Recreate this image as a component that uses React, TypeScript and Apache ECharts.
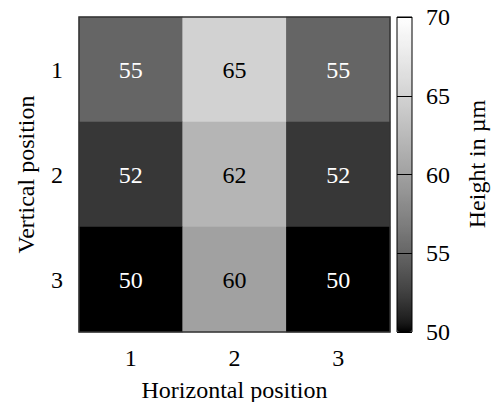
import React, { useEffect, useRef } from "react";
import * as echarts from "echarts";

const xCategories = ["1", "2", "3"];
const yCategories = ["1", "2", "3"];
const row1 = [55, 65, 55];
const row2 = [52, 62, 52];
const row3 = [50, 60, 50];
const rows = [row1, row2, row3];
const colorbarMin = 50;
const colorbarMax = 70;
const colorbarStep = 5;
const xName = "Horizontal position";
const yName = "Vertical position";
const cbName = "Height in µm";

const FONT = "Liberation Serif";
const FS = 24;

export default function App() {
  const ref = useRef<HTMLDivElement>(null);
  useEffect(() => {
    if (!ref.current) return;
    const chart = echarts.init(ref.current, null, { renderer: "svg" });

    const gL = 79, gT = 17, gW = 311, gH = 315;
    const cL = 397, cW = 15;

    const data: any[] = [];
    rows.forEach((r, yi) => {
      r.forEach((v, xi) => {
        data.push({
          value: [xi, yi, v],
          label: { color: v >= 58 ? "#000" : "#fff" },
        });
      });
    });

    // gnuplot gray palette (gamma 1.5) color stops
    const stops: string[] = [];
    for (let i = 0; i <= 40; i++) {
      const g = Math.round(255 * Math.pow(i / 40, 1 / 1.5));
      stops.push(`rgb(${g},${g},${g})`);
    }

    chart.setOption({
      animation: false,
      grid: [
        { left: gL, top: gT, width: gW, height: gH, containLabel: false, outerBoundsMode: "none" },
        { left: cL, top: gT, width: cW, height: gH, containLabel: false, outerBoundsMode: "none" },
      ],
      xAxis: [
        {
          type: "category",
          gridIndex: 0,
          data: xCategories,
          axisLine: { show: false },
          axisTick: { show: false },
          splitLine: { show: false },
          axisLabel: { fontFamily: FONT, fontSize: FS, color: "#000", margin: 14 },
          name: xName,
          nameLocation: "middle",
          nameGap: 46,
          nameTextStyle: { fontFamily: FONT, fontSize: FS, color: "#000" },
        },
        {
          type: "value",
          gridIndex: 1,
          show: false,
        },
      ],
      yAxis: [
        {
          type: "category",
          gridIndex: 0,
          data: yCategories,
          inverse: true,
          axisLine: { show: false },
          axisTick: { show: false },
          splitLine: { show: false },
          axisLabel: { fontFamily: FONT, fontSize: FS, color: "#000", margin: 16 },
          name: yName,
          nameLocation: "middle",
          nameGap: 41,
          nameTextStyle: { fontFamily: FONT, fontSize: FS, color: "#000" },
        },
        {
          type: "value",
          gridIndex: 1,
          position: "right",
          min: colorbarMin,
          max: colorbarMax,
          interval: colorbarStep,
          z: 10,
          axisLine: { show: false },
          axisTick: { show: false },
          splitLine: { show: true, lineStyle: { color: "#000", width: 1 } },
          axisLabel: { fontFamily: FONT, fontSize: FS, color: "#000", margin: 14 },
        },
      ],
      visualMap: {
        type: "continuous",
        seriesIndex: 0,
        min: colorbarMin,
        max: colorbarMax,
        calculable: false,
        realtime: false,
        left: cL,
        top: gT,
        padding: 0,
        itemWidth: cW,
        itemHeight: gH,
        text: ["", ""],
        showLabel: false,
        inRange: { color: stops },
        hoverLink: false,
      },
      series: [
        {
          type: "heatmap",
          xAxisIndex: 0,
          yAxisIndex: 0,
          data,
          label: {
            show: true,
            fontFamily: FONT,
            fontSize: FS,
            formatter: (p: any) => String(p.value[2]),
          },
          itemStyle: { borderWidth: 0 },
          emphasis: { disabled: true },
        },
      ],
      graphic: [
        {
          type: "rect",
          z: 100,
          shape: { x: gL, y: gT, width: gW, height: gH },
          style: { fill: "none", stroke: "#333", lineWidth: 1.5 },
        },
        {
          type: "rect",
          z: 100,
          shape: { x: cL, y: gT, width: cW, height: gH },
          style: { fill: "none", stroke: "#000", lineWidth: 1 },
        },
        {
          type: "text",
          z: 100,
          x: 477,
          y: 164,
          rotation: Math.PI / 2,
          style: {
            text: cbName,
            fontFamily: FONT,
            fontSize: FS,
            fill: "#000",
            align: "center",
            verticalAlign: "middle",
          },
        },
      ],
    });
    return () => chart.dispose();
  }, []);
  return (
    <div
      ref={ref}
      style={{ position: "fixed", left: 0, top: 0, width: 491, height: 402, background: "#fff" }}
    />
  );
}
